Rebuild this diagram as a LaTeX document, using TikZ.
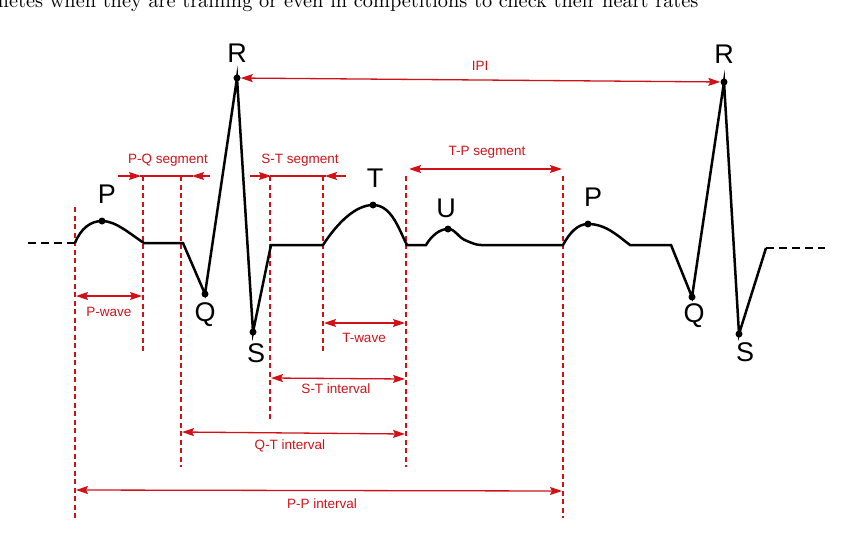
\documentclass[tikz,border=0pt]{standalone}
\usepackage{fontspec}
\setsansfont{Liberation Sans}
\usetikzlibrary{arrows.meta, positioning}
\definecolor{ecgred}{RGB}{208,18,24}

\begin{document}
\begin{tikzpicture}[x=1pt, y=-1pt,
		trace/.style={line width=2.5pt, black},
		lead/.style={trace, dash pattern=on 8pt off 5pt},
		guide/.style={ecgred, line width=1.2pt, dash pattern=on 5pt off 3.5pt},
		redline/.style={ecgred, line width=1.3pt},
		measure/.style={redline, {Stealth[length=12pt,width=8pt,inset=2pt]}-{Stealth[length=12pt,width=8pt,inset=2pt]}},
		inward/.style={redline, -{Stealth[length=12pt,width=8pt,inset=2pt]}},
		peak/.style={circle, fill=black, inner sep=0, minimum size=7pt},
		wavelabel/.style={font=\sffamily\fontsize{27}{30}\selectfont, inner sep=0},
		redlabel/.style={font=\sffamily\fontsize{13.5}{15}\selectfont, text=ecgred, inner sep=0}]

	\useasboundingbox (0,0) rectangle (850,551);
	\clip (0,0) rectangle (850,551);

	\node[anchor=base west, inner sep=0] (caption) at (-8,8) {\resizebox{706pt}{!}{hletes when they are training or even in competitions to check their heart rates}};

	\foreach \x/\top/\bot in {75/207/518, 143/176/352, 181/176/467, 270/176/421, 323/176/352, 406/176/467, 563/176/518}
		\draw[guide] (\x,\top) -- (\x,\bot);

	\node[peak] (p1) at (102,221) {};
	\node[peak] (q1) at (205,294) {};
	\node[peak] (r1) at (237,78) {};
	\node[peak] (s1) at (253,332) {};
	\node[peak] (t1) at (373,205) {};
	\node[peak] (u1) at (448,229) {};
	\node[peak] (p2) at (588,224) {};
	\node[peak] (q2) at (692,297) {};
	\node[peak] (r2) at (724,82) {};
	\node[peak] (s2) at (739,334) {};

	\draw[lead] (28,243) -- (75,243);
	\draw[trace] (75,243) .. controls (81,228) and (91,221) .. (p1.center)
		.. controls (116,221) and (130,234) .. (144,243) -- (183,243)
		-- (q1.center) -- (r1.center) -- (s1.center) -- (271,245) -- (323,245)
		.. controls (338,222) and (356,205) .. (t1.center)
		.. controls (392,205) and (399,230) .. (407,245) -- (426,245)
		.. controls (432,235) and (440,229) .. (u1.center)
		.. controls (456,229) and (458,238) .. (467,241)
		.. controls (472,243) and (476,245) .. (481,245) -- (563,245)
		.. controls (570,232) and (578,224) .. (p2.center)
		.. controls (606,224) and (618,236) .. (630,245) -- (671,245)
		-- (q2.center) -- (r2.center) -- (s2.center) -- (766,248);
	\draw[lead] (766,248) -- (825,248);

	\node[wavelabel] (plabel) at (107,194) {P};
	\node[wavelabel] (rlabel) at (237,53) {R};
	\node[wavelabel] (qlabel) at (205,315) {Q};
	\node[wavelabel] (slabel) at (256,353) {S};
	\node[wavelabel] (tlabel) at (375,178) {T};
	\node[wavelabel] (ulabel) at (446,208) {U};
	\node[wavelabel] (p2label) at (593,197) {P};
	\node[wavelabel] (r2label) at (724,54) {R};
	\node[wavelabel] (q2label) at (694,316) {Q};
	\node[wavelabel] (s2label) at (745,352) {S};

	\draw[measure] (r1) -- (r2);
	\draw[measure] (76,296) -- (142,296);
	\draw[measure] (324,323) -- (405,323);
	\draw[measure] (271,378) -- (405,379);
	\draw[measure] (182,432) -- (405,434);
	\draw[measure] (76,490) -- (562,491);
	\draw[measure] (409,169) -- (562,169);
	\draw[redline] (140,176) -- (193,176);
	\draw[inward] (118,176) -- (141,176);
	\draw[inward] (210,176) -- (192,176);
	\draw[redline] (270,176) -- (326,176);
	\draw[inward] (250,176) -- (271,176);
	\draw[inward] (346,176) -- (325,176);

	\node[redlabel] (ipi) at (480,66) {IPI};
	\node[redlabel] (pq) at (168,160) {P-Q segment};
	\node[redlabel] (st) at (300,160) {S-T segment};
	\node[redlabel] (tp) at (487,152) {T-P segment};
	\node[redlabel] (pwave) at (109,312) {P-wave};
	\node[redlabel] (twave) at (364,338) {T-wave};
	\node[redlabel] (stint) at (336,389) {S-T interval};
	\node[redlabel] (qtint) at (290,446) {Q-T interval};
	\node[redlabel] (ppint) at (322,504) {P-P interval};
\end{tikzpicture}
\end{document}
